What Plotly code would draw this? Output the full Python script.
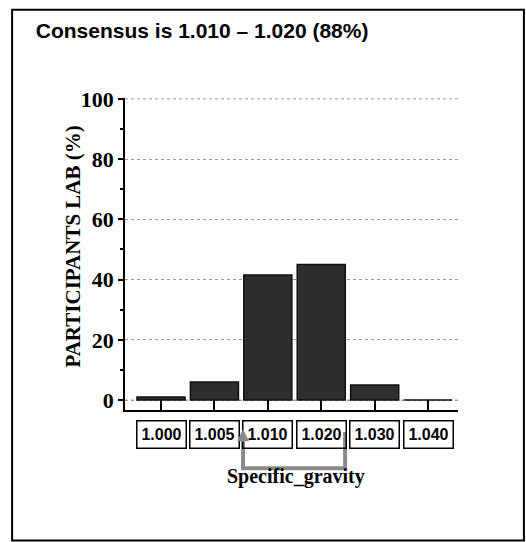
import plotly.graph_objects as go

# specific gravity result classes and share of participating labs (%)
categories = ["1.000", "1.005", "1.010", "1.020", "1.030", "1.040"]
participants_pct = [1, 6, 41.5, 45, 5, 0]

title_text = "Consensus is 1.010 \u2013 1.020 (88%)"
y_title = "PARTICIPANTS LAB (%)"
x_title = "Specific_gravity"

serif = "Liberation Serif, Times New Roman, serif"
sans = "Arial, Liberation Sans, sans-serif"

xpos = list(range(len(categories)))

fig = go.Figure(go.Bar(
    x=xpos,
    y=participants_pct,
    width=0.9,
    marker=dict(color="#2e2e2e", line=dict(color="#111111", width=1.5)),
))

# dotted lines at 0 and 100 (plotly skips grid lines at those spots)
for yv in (0, 100):
    fig.add_shape(type="line", xref="paper", yref="y", x0=0, x1=1, y0=yv, y1=yv,
                  line=dict(color="#9a9a9a", width=1, dash="dot"), layer="below")

# boxed category labels under the axis
for i, c in enumerate(categories):
    fig.add_annotation(x=i, xref="x", y=-0.077, yref="paper", yanchor="middle",
                       text=c, showarrow=False, width=42, height=20,
                       bordercolor="black", borderwidth=1.5, borderpad=3,
                       font=dict(family=sans, size=16, color="black", weight="bold"))

# grey bracket marking the consensus range
fig.add_shape(type="path", xref="x", yref="paper",
              path="M 1.536,-0.075 L 1.536,-0.1865 L 3.446,-0.1865 L 3.446,-0.0707",
              line=dict(color="#8a8a8a", width=4))
fig.add_annotation(x=1.536, xref="x", y=-0.062, yref="paper", text="",
                   showarrow=True, ax=0, ay=14, arrowhead=2, arrowsize=0.8,
                   arrowwidth=3, arrowcolor="#8a8a8a")

fig.add_annotation(x=-0.201, y=0.524, xref="paper", yref="paper", text=y_title,
                   textangle=-90, showarrow=False,
                   font=dict(family=serif, size=21, color="black", weight="bold"))
fig.add_annotation(x=0.514, y=-0.257, xref="paper", yref="paper", text=x_title,
                   showarrow=False,
                   font=dict(family=serif, size=20, color="black", weight="bold"))

# outer frame
fig.add_shape(type="rect", xref="paper", yref="paper",
              x0=-0.339, x1=1.198, y0=-0.418, y1=1.283,
              line=dict(color="black", width=2))

fig.update_layout(
    width=526, height=542,
    margin=dict(l=125, r=68, t=98, b=132),
    paper_bgcolor="white", plot_bgcolor="white",
    showlegend=False,
    title=dict(text=title_text, xref="container", yref="container",
               x=0.068, xanchor="left", y=0.943, yanchor="middle",
               font=dict(family=sans, size=21, color="black", weight="bold")),
)
fig.update_xaxes(range=[-0.674, 5.56], tickvals=xpos, showticklabels=False,
                 ticks="inside", ticklen=10, tickwidth=1.5, tickcolor="black",
                 showline=True, linecolor="black", linewidth=1.5,
                 showgrid=False, zeroline=False)
fig.update_yaxes(range=[-3.3, 100.3], tick0=0, dtick=20,
                 ticks="outside", ticklen=5, tickwidth=1.5, tickcolor="black",
                 minor=dict(dtick=10, ticks="outside", ticklen=3, tickcolor="black"),
                 showline=True, linecolor="black", linewidth=1.5,
                 showgrid=True, gridcolor="#9a9a9a", griddash="dot", gridwidth=1,
                 zeroline=False,
                 tickfont=dict(family=serif, size=22, color="black", weight="bold"))

# drop the default page margin so the figure sits at the window corner
fig.write_html("out.html", config={"displayModeBar": False},
               post_script="document.body.style.margin = '0';")
